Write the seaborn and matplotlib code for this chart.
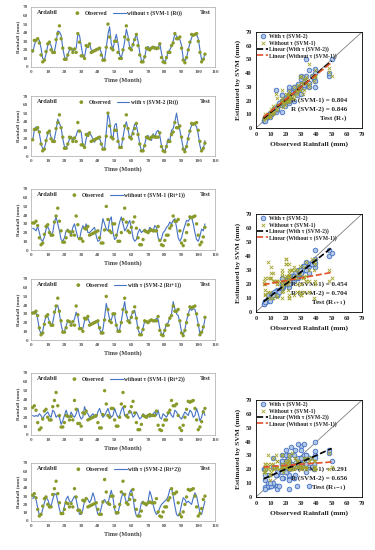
import numpy as np
import pandas as pd
import matplotlib
matplotlib.use("Agg")
import matplotlib.pyplot as plt
import seaborn as sns

# ---------------- data ----------------
obs_base = [19, 31, 31, 33, 28, 14, 6, 8, 18, 27, 29, 20, 17, 17, 32, 39, 48, 33, 22, 9,
            9, 14, 22, 21, 17, 21, 17, 39, 29, 13, 13, 10, 25, 24, 27, 17, 18, 19, 20, 21,
            22, 14, 8, 8, 23, 50, 35, 22, 20, 30, 30, 17, 10, 10, 20, 35, 48, 32, 22, 20,
            26, 32, 38, 25, 14, 6, 6, 12, 22, 21, 20, 22, 23, 22, 22, 22, 27, 11, 6, 5,
            11, 17, 17, 25, 28, 39, 33, 33, 35, 22, 8, 5, 11, 20, 29, 38, 37, 38, 39, 30,
            17, 6, 9, 15, 26, 30]

svm1_rt = [17, 25, 32, 33, 31, 22, 10, 8, 15, 25, 28, 25, 18, 18, 28, 42, 41, 37, 22, 12,
           9, 14, 20, 22, 19, 20, 22, 38, 37, 25, 13, 12, 22, 25, 27, 20, 19, 20, 21, 21,
           22, 17, 9, 9, 22, 38, 47, 27, 21, 30, 38, 28, 14, 11, 19, 30, 44, 36, 23, 21,
           27, 33, 38, 30, 17, 8, 7, 12, 22, 24, 21, 23, 22, 24, 20, 22, 28, 16, 8, 6,
           10, 18, 20, 24, 30, 39, 36, 33, 32, 25, 10, 7, 11, 20, 28, 34, 38, 37, 38, 33,
           20, 8, 8, 16]
svm2_rt = [18, 30, 34, 32, 26, 15, 8, 9, 17, 26, 29, 22, 17, 20, 30, 43, 38, 33, 20, 11,
           10, 13, 20, 23, 18, 20, 24, 30, 30, 28, 12, 10, 20, 27, 26, 24, 20, 16, 21, 22,
           20, 15, 8, 9, 28, 50, 42, 24, 20, 36, 38, 20, 10, 10, 22, 33, 40, 31, 21, 22,
           30, 37, 36, 26, 14, 6, 7, 14, 22, 24, 20, 18, 26, 22, 28, 30, 24, 12, 7, 5,
           12, 20, 18, 30, 32, 40, 50, 38, 30, 20, 9, 6, 12, 22, 30, 36, 38, 37, 34, 25,
           12, 5, 8, 18]
svm1_rt1 = [25, 24, 22, 27, 20, 12, 10, 15, 24, 27, 22, 18, 20, 32, 38, 30, 22, 12, 10, 14,
            22, 24, 20, 18, 26, 30, 22, 14, 12, 22, 28, 24, 30, 20, 20, 22, 24, 26, 16, 10,
            11, 24, 36, 30, 24, 22, 34, 38, 20, 12, 14, 24, 32, 38, 30, 22, 25, 30, 34, 26,
            14, 10, 12, 20, 24, 20, 22, 24, 22, 20, 26, 24, 22, 28, 26, 14, 10, 13, 20, 22,
            26, 28, 32, 30, 34, 36, 26, 14, 10, 14, 22, 28, 34, 33, 36, 38, 30, 20, 12, 10,
            16, 24, 22, 30]
svm2_rt1 = [30, 33, 31, 24, 12, 7, 10, 20, 28, 27, 21, 17, 20, 30, 38, 40, 30, 18, 9, 10,
            16, 22, 21, 19, 20, 24, 32, 27, 15, 12, 13, 22, 26, 25, 20, 18, 20, 21, 22, 20,
            12, 8, 12, 26, 42, 33, 24, 23, 30, 28, 17, 10, 12, 22, 34, 44, 30, 22, 22, 28,
            33, 34, 24, 12, 7, 8, 14, 22, 22, 20, 22, 24, 22, 22, 25, 24, 13, 7, 6, 12,
            18, 20, 26, 30, 44, 36, 30, 28, 20, 9, 6, 12, 22, 30, 36, 34, 36, 35, 28, 18,
            7, 8, 14, 24]
svm1_rt2 = [22, 21, 22, 21, 24, 22, 18, 22, 24, 26, 22, 20, 28, 26, 20, 22, 20, 12, 16, 22,
            28, 22, 20, 26, 22, 20, 24, 30, 22, 18, 20, 32, 26, 24, 20, 22, 24, 22, 20, 26,
            30, 24, 20, 22, 26, 30, 24, 20, 22, 30, 24, 20, 22, 28, 32, 22, 20, 24, 28, 26,
            20, 22, 26, 22, 18, 20, 24, 22, 22, 22, 20, 22, 24, 26, 22, 28, 20, 18, 24, 22,
            20, 24, 26, 22, 20, 28, 26, 22, 20, 18, 22, 26, 24, 22, 28, 26, 20, 22, 30, 24,
            16, 20, 28, 22]
svm2_rt2 = [27, 30, 26, 16, 7, 7, 14, 22, 28, 26, 20, 18, 26, 33, 32, 24, 14, 8, 10, 18,
            26, 30, 24, 22, 26, 30, 26, 16, 8, 8, 14, 24, 28, 26, 22, 26, 34, 28, 16, 8,
            8, 16, 24, 26, 22, 20, 30, 37, 28, 14, 8, 10, 18, 28, 34, 30, 22, 24, 34, 38,
            28, 14, 6, 6, 12, 22, 24, 20, 18, 24, 36, 30, 20, 12, 8, 10, 16, 20, 22, 24,
            26, 30, 38, 40, 30, 18, 8, 6, 10, 20, 28, 26, 22, 24, 22, 20, 28, 34, 30, 20,
            10, 8, 16, 24]

horizons = ["Rt", "Rt+1", "Rt+2"]
lead = [0, 1, 2]
svm1_all = [svm1_rt, svm1_rt1, svm1_rt2]
svm2_all = [svm2_rt, svm2_rt1, svm2_rt2]
r_svm1 = ["0.804", "0.454", "0.291"]
r_svm2 = ["0.846", "0.704", "0.656"]
test_tags = ["Test (R$_\\mathbf{t}$)", "Test (R$_\\mathbf{t+1}$)", "Test (R$_\\mathbf{t-1}$)"]

# ---------------- style ----------------
sns.set_theme(style="white")
plt.rcParams["font.family"] = ["Liberation Serif", "DejaVu Serif"]
plt.rcParams["font.weight"] = "bold"
plt.rcParams["mathtext.fontset"] = "stix"

LINE = "#4472C4"
OBS = "#8A9A2A"
W, H = 375, 550
fig = plt.figure(figsize=(W / 100, H / 100), dpi=100)


def ax_at(l, t, r, b):
    return fig.add_axes([l / W, 1 - b / H, (r - l) / W, (b - t) / H])


ts_rows = [(7, 67), (96, 156), (189, 250), (279, 340), (373, 435), (463, 521)]
sc_rows = [(32, 128), (214, 312), (400, 497)]


def ts_panel(ax, obs, pred, label):
    months = np.arange(1, len(pred) + 1)
    df = pd.DataFrame({"Month": months, "Observed": obs, "Pred": pred})
    sns.lineplot(data=df, x="Month", y="Pred", ax=ax, color=LINE, lw=0.8, label=label)
    sns.scatterplot(data=df, x="Month", y="Observed", ax=ax, color=OBS, s=6,
                    edgecolor="none", label="Observed", zorder=3)
    ax.set_xlim(0, 110)
    ax.set_ylim(0, 70)
    ax.set_xticks(range(0, 111, 10))
    ax.set_yticks(range(0, 71, 10))
    ax.tick_params(labelsize=3.7, colors="#595959", length=1.2, width=0.4, pad=1)
    for s in ax.spines.values():
        s.set_color("#A6A6A6")
        s.set_linewidth(0.5)
    ax.set_xlabel("Time (Month)", fontsize=4.4, fontweight="bold", labelpad=2, color="#404040")
    ax.set_ylabel("Rainfall (mm)", fontsize=3.8, fontweight="bold", labelpad=2, color="#404040")
    h, l = ax.get_legend_handles_labels()
    ax.legend([h[1], h[0]], [l[1], l[0]], loc="upper center", bbox_to_anchor=(0.52, 1.03),
              ncol=2, frameon=False, fontsize=4, handlelength=2.2, handletextpad=0.3,
              columnspacing=1.0, markerscale=1.1)
    ax.text(0.03, 0.88, "Ardabil", transform=ax.transAxes, fontsize=4.5,
            fontweight="bold", color="#303030")
    ax.text(0.92, 0.88, "Test", transform=ax.transAxes, fontsize=4.5,
            fontweight="bold", color="#303030")


def sc_panel(ax, obs, p1, p2, r1, r2, tag):
    sns.scatterplot(x=obs, y=p2, ax=ax, marker="o", s=11, color="#B4C7E7",
                    edgecolor=LINE, linewidth=0.6, label="With \u03c4 (SVM-2)", zorder=3)
    sns.scatterplot(x=obs, y=p1, ax=ax, marker="x", s=6, color="#A3A32E",
                    linewidth=0.6, label="Without \u03c4 (SVM-1)", zorder=4)
    sns.regplot(x=np.array(obs), y=np.array(p2), ax=ax, scatter=False, ci=None, truncate=True,
                line_kws=dict(color="black", ls="--", lw=1.2, zorder=5),
                label="Linear (With \u03c4 (SVM-2))")
    sns.regplot(x=np.array(obs), y=np.array(p1), ax=ax, scatter=False, ci=None, truncate=True,
                line_kws=dict(color="#E0522B", ls="--", lw=1.2, zorder=5),
                label="Linear (Without \u03c4 (SVM-1))")
    ax.axline((0, 0), slope=1, color="#7F7F7F", lw=0.6, zorder=2)
    ax.set_xlim(0, 70)
    ax.set_ylim(0, 70)
    ax.set_xticks(range(0, 71, 10))
    ax.set_yticks(range(0, 71, 10))
    ax.tick_params(labelsize=4.6, colors="#262626", length=1.5, width=0.5, pad=1.5)
    for s in ax.spines.values():
        s.set_color("black")
        s.set_linewidth(0.6)
    ax.set_xlabel("Observed Rainfall (mm)", fontsize=5.4, fontweight="bold", labelpad=3)
    ax.set_ylabel("Estimated by SVM (mm)", fontsize=5.4, fontweight="bold", labelpad=3)
    ax.legend(loc="upper left", frameon=False, fontsize=4.1, handlelength=1.8,
              handletextpad=0.3, labelspacing=0.12, borderaxespad=0.15, borderpad=0.1)
    ax.text(60, 20, "R (SVM-1) = " + r1, ha="right", va="center", fontsize=5, fontweight="bold")
    ax.text(60, 13.5, "R (SVM-2) = " + r2, ha="right", va="center", fontsize=5, fontweight="bold")
    ax.text(60, 7, tag, ha="right", va="center", fontsize=5, fontweight="bold")


n = len(svm1_rt)
for i in range(3):
    k = lead[i]
    obs = obs_base[k:k + n]
    t1, b1 = ts_rows[2 * i]
    t2, b2 = ts_rows[2 * i + 1]
    ts_panel(ax_at(31, t1, 215, b1), obs, svm1_all[i],
             "without \u03c4 (SVM-1 (" + horizons[i] + "))")
    ts_panel(ax_at(31, t2, 215, b2), obs, svm2_all[i],
             "with \u03c4 (SVM-2 (" + horizons[i] + "))")
    st, sb = sc_rows[i]
    sc_panel(ax_at(256, st, 362, sb), obs, svm1_all[i], svm2_all[i],
             r_svm1[i], r_svm2[i], test_tags[i])

fig.savefig("out.png", dpi=100)
